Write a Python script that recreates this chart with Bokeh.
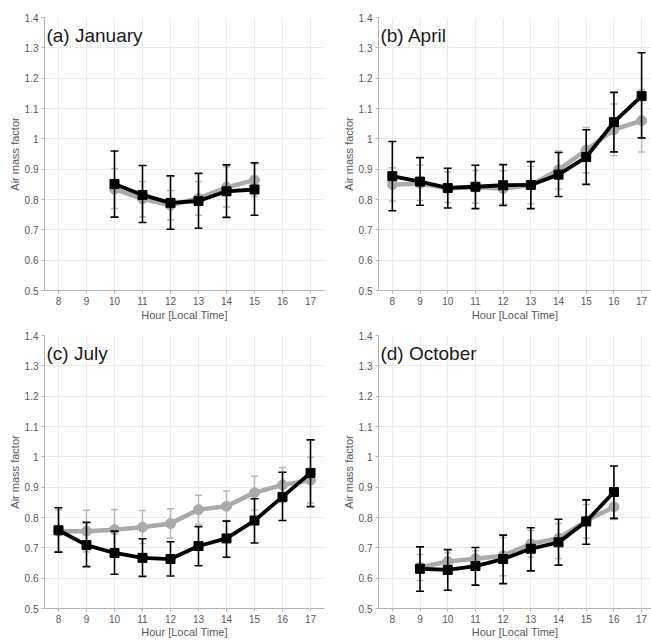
from bokeh.plotting import figure
from bokeh.layouts import gridplot
from bokeh.models import FixedTicker, Label, ColumnDataSource
from bokeh.embed import file_html
from bokeh.resources import INLINE

# ---------------- data ----------------
x_ticks = [8, 9, 10, 11, 12, 13, 14, 15, 16, 17]
y_ticks = [0.5, 0.6, 0.7, 0.8, 0.9, 1.0, 1.1, 1.2, 1.3, 1.4]
y_tick_labels = ["0.5", "0.6", "0.7", "0.8", "0.9", "1", "1.1", "1.2", "1.3", "1.4"]
x_axis_title = "Hour [Local Time]"
y_axis_title = "Air mass factor"

jan_hours = [10, 11, 12, 13, 14, 15]
jan_black = [0.851, 0.815, 0.789, 0.795, 0.827, 0.833]
jan_black_hi = [0.960, 0.912, 0.878, 0.886, 0.914, 0.921]
jan_black_lo = [0.742, 0.724, 0.702, 0.705, 0.741, 0.748]
jan_gray = [0.834, 0.802, 0.781, 0.804, 0.840, 0.864]
jan_gray_hi = [0.902, 0.859, 0.830, 0.859, 0.907, 0.918]
jan_gray_lo = [0.770, 0.743, 0.733, 0.748, 0.775, 0.810]

apr_hours = [8, 9, 10, 11, 12, 13, 14, 15, 16, 17]
apr_black = [0.877, 0.859, 0.838, 0.842, 0.847, 0.848, 0.882, 0.940, 1.055, 1.141]
apr_black_hi = [0.991, 0.938, 0.903, 0.913, 0.915, 0.925, 0.955, 1.030, 1.153, 1.284]
apr_black_lo = [0.763, 0.781, 0.772, 0.770, 0.780, 0.770, 0.810, 0.850, 0.957, 1.003]
apr_gray = [0.849, 0.853, 0.837, 0.840, 0.836, 0.848, 0.898, 0.963, 1.030, 1.060]
apr_gray_hi = [0.905, 0.914, 0.890, 0.896, 0.895, 0.910, 0.960, 1.037, 1.115, 1.162]
apr_gray_lo = [0.795, 0.797, 0.790, 0.788, 0.785, 0.785, 0.835, 0.888, 0.944, 0.957]

jul_hours = [8, 9, 10, 11, 12, 13, 14, 15, 16, 17]
jul_black = [0.758, 0.709, 0.683, 0.667, 0.663, 0.706, 0.731, 0.790, 0.868, 0.947]
jul_black_hi = [0.832, 0.784, 0.755, 0.730, 0.720, 0.770, 0.788, 0.862, 0.949, 1.056]
jul_black_lo = [0.686, 0.638, 0.613, 0.606, 0.607, 0.641, 0.669, 0.716, 0.790, 0.836]
jul_gray = [0.755, 0.755, 0.760, 0.768, 0.780, 0.826, 0.837, 0.882, 0.907, 0.923]
jul_gray_hi = [0.825, 0.824, 0.826, 0.823, 0.829, 0.873, 0.887, 0.936, 0.965, 0.999]
jul_gray_lo = [0.688, 0.686, 0.695, 0.714, 0.732, 0.777, 0.790, 0.825, 0.850, 0.848]

oct_hours = [9, 10, 11, 12, 13, 14, 15, 16]
oct_black = [0.631, 0.627, 0.640, 0.663, 0.697, 0.718, 0.787, 0.884]
oct_black_hi = [0.703, 0.694, 0.701, 0.742, 0.766, 0.794, 0.858, 0.970]
oct_black_lo = [0.557, 0.560, 0.577, 0.582, 0.624, 0.643, 0.712, 0.797]
oct_gray = [0.636, 0.655, 0.664, 0.674, 0.713, 0.732, 0.789, 0.835]
oct_gray_hi = [0.678, 0.683, 0.690, 0.734, 0.757, 0.780, 0.843, 0.880]
oct_gray_lo = [0.592, 0.618, 0.625, 0.608, 0.670, 0.665, 0.732, 0.793]

panel_titles = ["(a) January", "(b) April", "(c) July", "(d) October"]

# ---------------- style ----------------
FONT = "Liberation Sans"
GRID = "#ebebeb"
AXIS = "#b3b3b3"
TEXT = "#595959"
GRAY = "#aaaaaa"
GRAY_ERR = "#b8b8b8"
BLACK = "#000000"


def make_panel(title, hours, b, bhi, blo, g, ghi, glo, width, height, x_end,
               border_left, border_right, border_top, border_bottom, xlabel_standoff):
    p = figure(width=width, height=height, x_range=(7.5, x_end), y_range=(0.5, 1.4),
               output_backend="svg", toolbar_location=None,
               min_border_left=border_left, min_border_right=border_right,
               min_border_top=border_top, min_border_bottom=border_bottom)
    p.outline_line_color = None
    p.background_fill_color = "white"
    p.border_fill_color = "white"

    p.xaxis.ticker = FixedTicker(ticks=x_ticks)
    p.yaxis.ticker = FixedTicker(ticks=y_ticks)
    p.xgrid.ticker = FixedTicker(ticks=x_ticks)
    p.ygrid.ticker = FixedTicker(ticks=y_ticks)
    p.yaxis.major_label_overrides = dict(zip(y_ticks, y_tick_labels))
    p.xgrid.grid_line_color = GRID
    p.ygrid.grid_line_color = GRID

    for ax in (p.xaxis[0], p.yaxis[0]):
        ax.axis_line_color = AXIS
        ax.major_tick_line_color = AXIS
        ax.minor_tick_line_color = None
        ax.major_tick_out = 3
        ax.major_tick_in = 0
        ax.major_label_text_font = FONT
        ax.major_label_text_font_size = "10px"
        ax.major_label_text_color = TEXT
        ax.axis_label_text_font = FONT
        ax.axis_label_text_font_size = "11px"
        ax.axis_label_text_font_style = "normal"
        ax.axis_label_text_color = TEXT
        ax.major_label_standoff = 3
    p.xaxis.axis_label = x_axis_title
    p.yaxis.axis_label = y_axis_title
    p.xaxis.axis_label_standoff = xlabel_standoff
    p.yaxis.axis_label_standoff = 1

    gsrc = ColumnDataSource(dict(x=hours, y=g, hi=ghi, lo=glo))
    bsrc = ColumnDataSource(dict(x=hours, y=b, hi=bhi, lo=blo))

    # gray series (behind)
    p.segment(x0="x", y0="lo", x1="x", y1="hi", source=gsrc, line_color=GRAY_ERR, line_width=1.5)
    p.scatter(x="x", y="hi", marker="dash", size=7, line_color=GRAY_ERR, line_width=1.5, source=gsrc)
    p.scatter(x="x", y="lo", marker="dash", size=7, line_color=GRAY_ERR, line_width=1.5, source=gsrc)
    p.line(x="x", y="y", line_color=GRAY, line_width=4.5, source=gsrc)
    p.scatter(x="x", y="y", marker="circle", size=10, fill_color=GRAY, line_color=GRAY, source=gsrc)

    # black series (front)
    p.segment(x0="x", y0="lo", x1="x", y1="hi", source=bsrc, line_color=BLACK, line_width=1.6)
    p.scatter(x="x", y="hi", marker="dash", size=8, line_color=BLACK, line_width=1.6, source=bsrc)
    p.scatter(x="x", y="lo", marker="dash", size=8, line_color=BLACK, line_width=1.6, source=bsrc)
    p.line(x="x", y="y", line_color=BLACK, line_width=3.8, source=bsrc)
    p.scatter(x="x", y="y", marker="square", size=9, fill_color=BLACK, line_color=BLACK, source=bsrc)

    p.add_layout(Label(x=7.57, y=1.376, text=title, text_font=FONT, text_font_size="19px",
                       text_baseline="top", text_align="left", text_color="#1a1a1a"))
    return p


pa = make_panel(panel_titles[0], jan_hours, jan_black, jan_black_hi, jan_black_lo,
                jan_gray, jan_gray_hi, jan_gray_lo,
                width=339, height=323, x_end=17.5, border_left=44, border_right=15,
                border_top=17, border_bottom=31, xlabel_standoff=1)
pb = make_panel(panel_titles[1], apr_hours, apr_black, apr_black_hi, apr_black_lo,
                apr_gray, apr_gray_hi, apr_gray_lo,
                width=312, height=323, x_end=17.357, border_left=36, border_right=0,
                border_top=17, border_bottom=31, xlabel_standoff=1)
pc = make_panel(panel_titles[2], jul_hours, jul_black, jul_black_hi, jul_black_lo,
                jul_gray, jul_gray_hi, jul_gray_lo,
                width=339, height=317, x_end=17.5, border_left=44, border_right=15,
                border_top=12, border_bottom=30, xlabel_standoff=0)
pd_ = make_panel(panel_titles[3], oct_hours, oct_black, oct_black_hi, oct_black_lo,
                 oct_gray, oct_gray_hi, oct_gray_lo,
                 width=312, height=317, x_end=17.357, border_left=36, border_right=0,
                 border_top=12, border_bottom=30, xlabel_standoff=0)

grid = gridplot([[pa, pb], [pc, pd_]], toolbar_location=None)

with open("out.html", "w") as f:
    f.write(file_html(grid, INLINE))
